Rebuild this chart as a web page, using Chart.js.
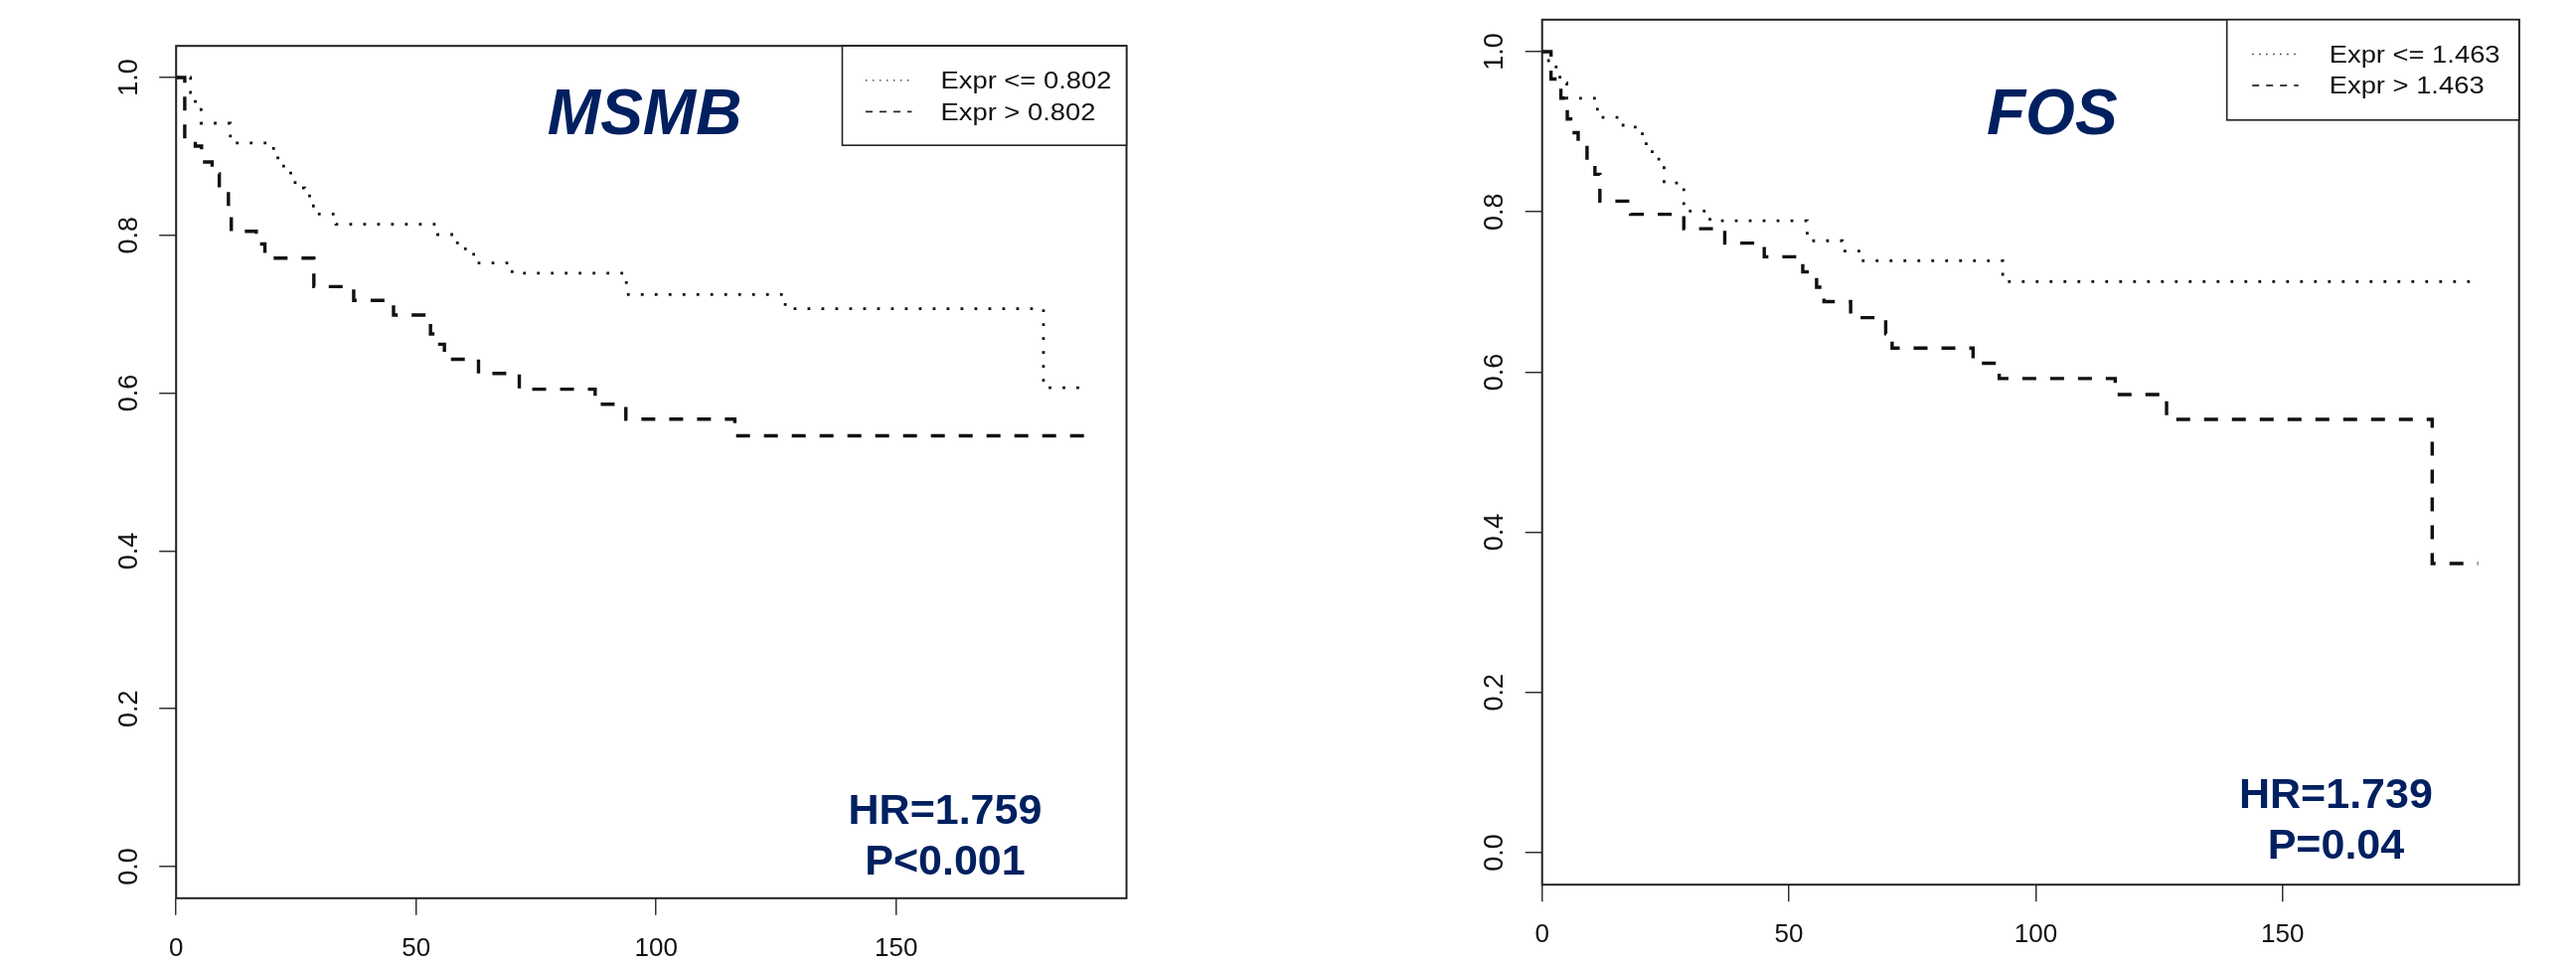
<!DOCTYPE html>
<html>
<head>
<meta charset="utf-8">
<script src="https://cdn.jsdelivr.net/npm/chart.js@4.4.1/dist/chart.umd.min.js"></script>
<style>
html,body{margin:0;padding:0;background:#fff;width:2592px;height:970px;overflow:hidden}
canvas{position:absolute;top:0}
#c1{left:0}
#c2{left:1300px}
</style>
</head>
<body>
<canvas id="c1" width="1300" height="970"></canvas>
<canvas id="c2" width="1292" height="970"></canvas>
<script>
// ---------- data ----------
const xTicks = [0, 50, 100, 150];
const yTicks = [0, 0.2, 0.4, 0.6, 0.8, 1.0];

// MSMB panel
const msmbLabels = ['Expr <= 0.802', 'Expr > 0.802'];
const msmbLowTime = [0, 3.0, 4.0, 5.2, 11.3, 20.3, 22.4, 24.8, 26.8, 28.6, 33.3, 54.5, 58.6, 62.0, 70.0, 93.8, 126.9, 180.7, 189.3];
const msmbLowSurv = [1, 0.981, 0.962, 0.942, 0.917, 0.898, 0.879, 0.860, 0.850, 0.827, 0.814, 0.801, 0.783, 0.765, 0.752, 0.725, 0.707, 0.607, 0.607];
const msmbHighTime = [0, 1.8, 4.0, 5.3, 7.5, 9.0, 10.9, 11.5, 16.7, 18.5, 28.7, 37.0, 45.3, 53.0, 54.5, 55.9, 63.0, 71.5, 87.3, 93.7, 116.4, 190.7];
const msmbHighSurv = [1, 0.922, 0.913, 0.893, 0.878, 0.860, 0.835, 0.805, 0.789, 0.771, 0.735, 0.7175, 0.699, 0.675, 0.662, 0.643, 0.625, 0.605, 0.586, 0.567, 0.546, 0.546];
const msmbTitle = 'MSMB';
const msmbStats = ['HR=1.759', 'P<0.001'];

// FOS panel
const fosLabels = ['Expr <= 1.463', 'Expr > 1.463'];
const fosLowTime = [0, 1.3, 3.6, 5.0, 11.2, 16.4, 20.3, 22.3, 24.7, 28.7, 34.0, 53.7, 60.8, 64.5, 93.3, 188.9];
const fosLowSurv = [1, 0.981, 0.961, 0.942, 0.918, 0.906, 0.885, 0.866, 0.836, 0.801, 0.789, 0.764, 0.751, 0.739, 0.713, 0.713];
const fosHighTime = [0, 1.8, 3.8, 5.1, 5.8, 7.3, 9.1, 10.7, 11.7, 17.9, 28.7, 37.0, 45.0, 52.8, 55.6, 57.1, 62.5, 69.6, 70.9, 87.3, 92.6, 116.1, 126.5, 180.3, 189.6];
const fosHighSurv = [1, 0.966, 0.942, 0.916, 0.899, 0.887, 0.864, 0.847, 0.8135, 0.797, 0.779, 0.761, 0.744, 0.725, 0.706, 0.688, 0.668, 0.648, 0.630, 0.611, 0.592, 0.572, 0.541, 0.361, 0.361];
const fosTitle = 'FOS';
const fosStats = ['HR=1.739', 'P=0.04'];

// ---------- styling ----------
const FAMILY = '"Liberation Sans", Arial, Helvetica, sans-serif';
const NAVY = '#002060';
const INK = '#111';
const DOTTED = {dash: [2.8, 11.2], width: 2.8};
const DASHED = {dash: [14, 14], width: 3.4};

// ---------- plugins ----------
const rBox = {
  id: 'rBox',
  afterDatasetsDraw(chart) {
    const {ctx, chartArea: a} = chart;
    ctx.save();
    ctx.strokeStyle = '#222';
    ctx.lineWidth = 2;
    ctx.setLineDash([]);
    ctx.strokeRect(a.left, a.top, a.right - a.left, a.bottom - a.top);
    ctx.restore();
  }
};

const rLegend = {
  id: 'rLegend',
  afterDraw(chart, args, opts) {
    const {ctx, chartArea: a} = chart;
    const left = a.right - opts.width, top = a.top;
    ctx.save();
    ctx.fillStyle = '#fff';
    ctx.fillRect(left, top, opts.width, opts.height);
    ctx.strokeStyle = '#222';
    ctx.lineWidth = 1.6;
    ctx.setLineDash([]);
    ctx.strokeRect(left, top, opts.width, opts.height);
    chart.data.datasets.forEach((ds, i) => {
      const yLine = top + opts.firstLine + i * opts.rowGap;
      ctx.beginPath();
      ctx.strokeStyle = '#222';
      ctx.lineWidth = ds.borderWidth / 2;
      ctx.lineCap = 'butt';
      ctx.setLineDash(ds.borderDash.map(d => d / 2));
      ctx.moveTo(left + opts.sampleStart, yLine);
      ctx.lineTo(left + opts.sampleEnd, yLine);
      ctx.stroke();
      ctx.setLineDash([]);
      ctx.save();
      ctx.translate(left + opts.textStart, top + opts.firstBase + i * opts.rowGap);
      ctx.scale(opts.stretch, 1);
      ctx.fillStyle = INK;
      ctx.font = opts.fontSize + 'px ' + FAMILY;
      ctx.textAlign = 'left';
      ctx.textBaseline = 'alphabetic';
      ctx.fillText(ds.label, 0, 0);
      ctx.restore();
    });
    ctx.restore();
  }
};

const rNotes = {
  id: 'rNotes',
  afterDraw(chart, args, opts) {
    const {ctx, scales} = chart;
    ctx.save();
    opts.items.forEach(it => {
      ctx.font = it.font;
      ctx.fillStyle = it.color;
      ctx.textAlign = 'center';
      ctx.textBaseline = 'alphabetic';
      ctx.fillText(it.text, scales.x.getPixelForValue(it.x), scales.y.getPixelForValue(it.y));
    });
    ctx.restore();
  }
};

function buildChart(id, spec) {
  const series = [
    {label: spec.labels[0], time: spec.lowTime, surv: spec.lowSurv, style: DOTTED},
    {label: spec.labels[1], time: spec.highTime, surv: spec.highSurv, style: DASHED}
  ];
  return new Chart(document.getElementById(id), {
    type: 'line',
    data: {
      datasets: series.map(s => ({
        label: s.label,
        data: s.time.map((t, i) => ({x: t, y: s.surv[i]})),
        stepped: true,
        borderColor: '#111',
        borderWidth: s.style.width,
        borderDash: s.style.dash,
        borderCapStyle: 'butt',
        pointRadius: 0,
        pointHoverRadius: 0,
        fill: false,
        tension: 0
      }))
    },
    options: {
      responsive: false,
      animation: false,
      devicePixelRatio: 1,
      events: [],
      layout: {padding: spec.padding},
      plugins: {
        legend: {display: false},
        tooltip: {enabled: false},
        rLegend: spec.legend,
        rNotes: {items: [
          {text: spec.title, x: spec.titlePos[0], y: spec.titlePos[1], font: 'italic bold 64px ' + FAMILY, color: NAVY},
          {text: spec.stats[0], x: spec.statsPos[0], y: spec.statsPos[1], font: 'bold 43px ' + FAMILY, color: NAVY},
          {text: spec.stats[1], x: spec.statsPos[0], y: spec.statsPos[2], font: 'bold 43px ' + FAMILY, color: NAVY}
        ]}
      },
      scales: {
        x: {
          type: 'linear',
          min: 0,
          max: spec.xMax,
          afterBuildTicks: s => { s.ticks = xTicks.map(v => ({value: v})); },
          afterFit: s => { s.height = spec.xAxisHeight; s.paddingLeft = 0; s.paddingRight = 0; },
          ticks: {autoSkip: false, maxRotation: 0, minRotation: 0, padding: 18, color: INK,
                  font: {family: FAMILY, size: 26}, callback: v => String(v)},
          grid: {display: true, drawOnChartArea: false, drawTicks: true, tickLength: 17, color: '#333', lineWidth: 1.5},
          border: {display: false}
        },
        y: {
          type: 'linear',
          min: -0.04,
          max: 1.04,
          afterBuildTicks: s => { s.ticks = yTicks.map(v => ({value: v})); },
          afterFit: s => { s.width = spec.yAxisWidth; s.paddingTop = 0; s.paddingBottom = 0; },
          ticks: {minRotation: 90, maxRotation: 90, crossAlign: 'center', padding: 11, color: INK,
                  font: {family: FAMILY, size: 27}, callback: v => Number(v).toFixed(1)},
          grid: {display: true, drawOnChartArea: false, drawTicks: true, tickLength: 17, color: '#333', lineWidth: 1.5},
          border: {display: false}
        }
      }
    },
    plugins: [rBox, rLegend, rNotes]
  });
}

buildChart('c1', {
  labels: msmbLabels,
  lowTime: msmbLowTime, lowSurv: msmbLowSurv,
  highTime: msmbHighTime, highSurv: msmbHighSurv,
  title: msmbTitle, titlePos: [97.6, 0.928],
  stats: msmbStats, statsPos: [160.2, 0.054, -0.010],
  xMax: 198.0,
  yAxisWidth: 177.2,
  xAxisHeight: 66.2,
  padding: {left: 0, top: 46.2, right: 166.5, bottom: 0},
  legend: {width: 286, height: 100, sampleStart: 23.5, sampleEnd: 70, textStart: 99,
           firstLine: 34.7, firstBase: 43, rowGap: 31.5, fontSize: 24, stretch: 1.14}
});

buildChart('c2', {
  labels: fosLabels,
  lowTime: fosLowTime, lowSurv: fosLowSurv,
  highTime: fosHighTime, highSurv: fosHighSurv,
  title: fosTitle, titlePos: [103.3, 0.897],
  stats: fosStats, statsPos: [160.8, 0.056, -0.007],
  xMax: 197.9,
  yAxisWidth: 251.7,
  xAxisHeight: 79.8,
  padding: {left: 0, top: 19.8, right: 57.3, bottom: 0},
  legend: {width: 294, height: 101, sampleStart: 25.5, sampleEnd: 72, textStart: 103,
           firstLine: 34.7, firstBase: 43, rowGap: 31.5, fontSize: 24, stretch: 1.14}
});
</script>
</body>
</html>
